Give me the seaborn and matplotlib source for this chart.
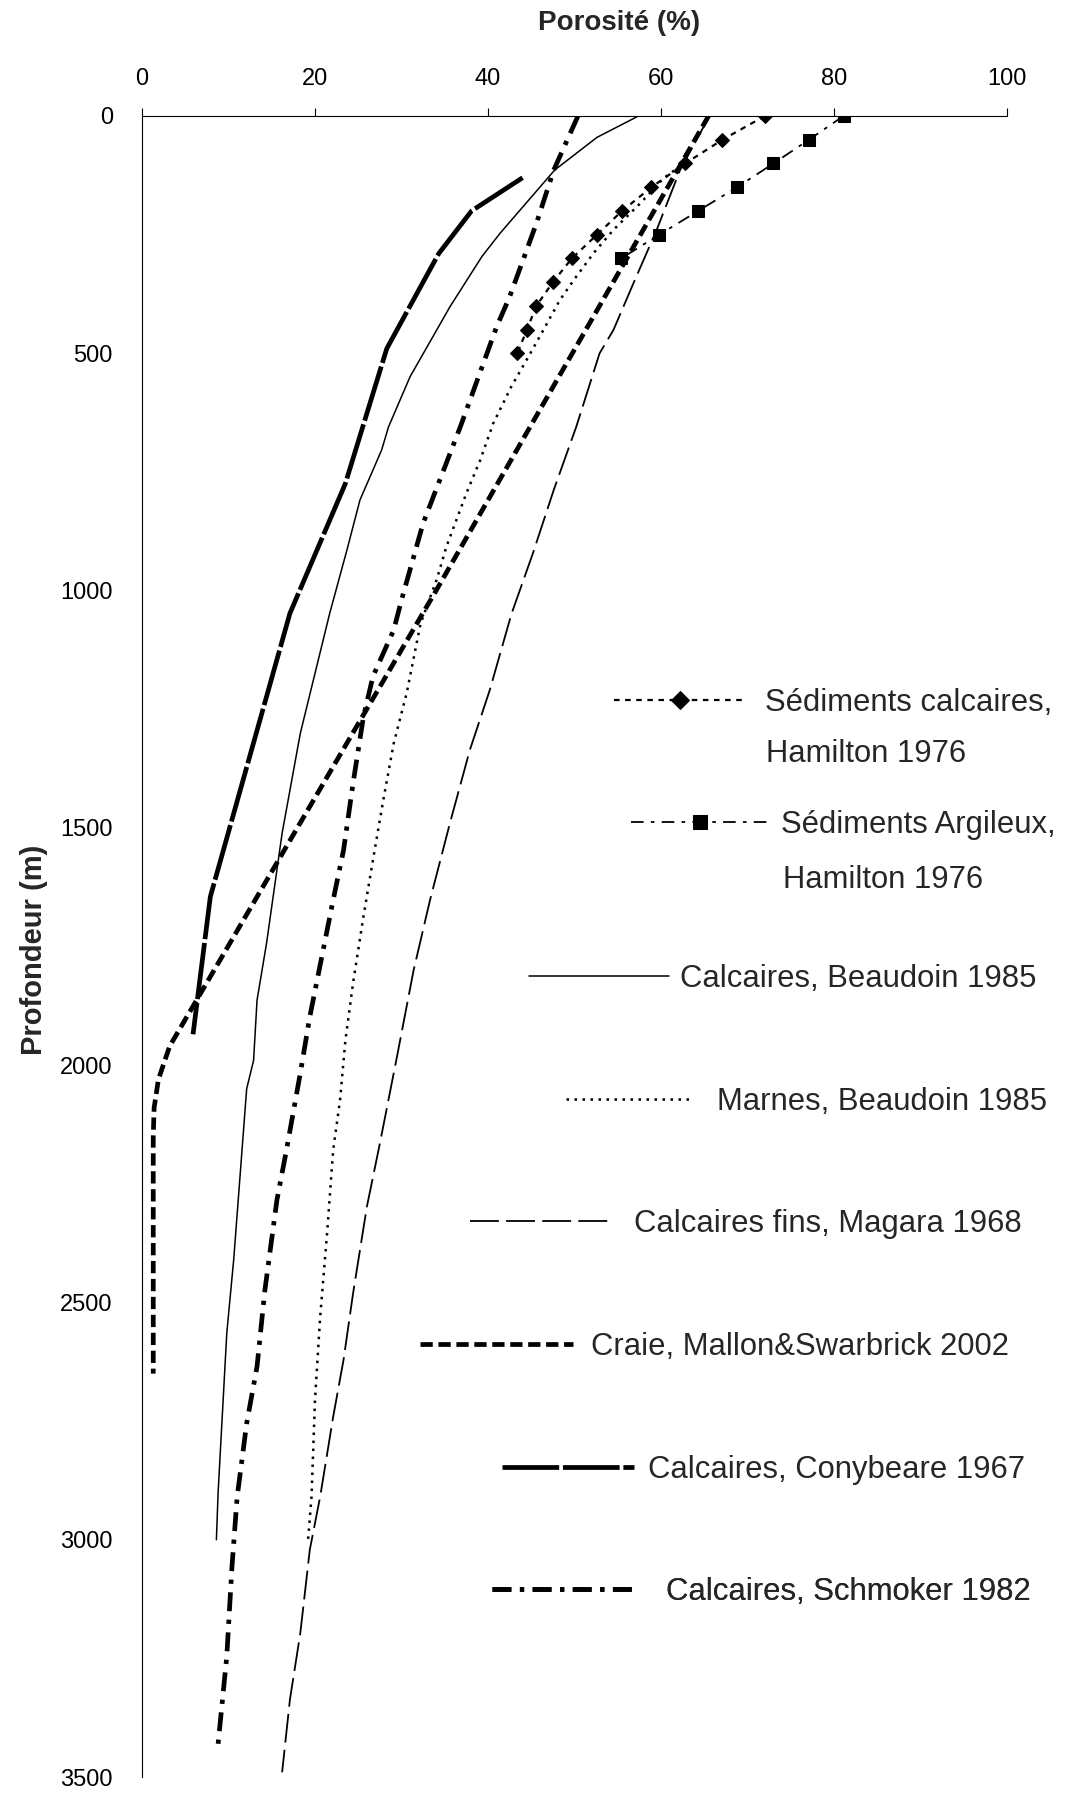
import matplotlib
matplotlib.use("Agg")
import matplotlib.pyplot as plt
import seaborn as sns
import pandas as pd

# Sédiments calcaires, Hamilton 1976
calc_depth = [0, 50, 100, 150, 200, 250, 300, 350, 400, 450, 500]
calc_poro = [72.0, 67.1, 62.8, 58.9, 55.5, 52.6, 49.7, 47.5, 45.6, 44.5, 43.4]

# Sédiments Argileux, Hamilton 1976
argi_depth = [0, 50, 100, 150, 200, 250, 300]
argi_poro = [81.1, 77.1, 73.0, 68.8, 64.3, 59.8, 55.4]

# Calcaires, Beaudoin 1985
beau_depth = [0, 45, 114, 247, 296, 402, 549, 655, 704, 809, 914, 1048, 1301, 1511,
              1743, 1863, 1990, 2050, 2410, 2565, 2900, 3000]
beau_poro = [57.4, 52.6, 47.7, 41.4, 39.3, 35.6, 31.0, 28.5, 27.7, 25.2, 23.7, 21.7, 18.3, 16.2,
             14.4, 13.3, 12.9, 12.1, 10.6, 9.8, 8.8, 8.6]

# Marnes, Beaudoin 1985
marn_depth = [95, 131, 184, 240, 289, 346, 388, 451, 500, 570, 648, 725, 795, 907, 975,
              1070, 1216, 1322, 1441, 1568, 1687, 1827, 1950, 2073, 2179, 2354, 2530,
              2705, 2909, 3000]
marn_poro = [63.0, 60.3, 57.6, 54.5, 52.2, 49.9, 48.3, 46.4, 44.9, 42.7, 40.6, 39.1, 37.5, 35.2, 34.1,
             32.2, 30.6, 29.1, 27.9, 26.7, 25.6, 24.4, 23.5, 22.9, 22.1, 21.4, 20.6,
             20.0, 19.6, 19.2]

# Calcaires fins, Magara 1968
maga_depth = [0, 114, 240, 353, 451, 500, 655, 788, 921, 1050, 1210, 1336, 1490, 1652,
              1800, 1980, 2165, 2298, 2481, 2621, 2741, 2909, 3021, 3197, 3337, 3490]
maga_poro = [65.6, 62.2, 59.5, 56.8, 54.5, 52.9, 50.2, 47.6, 45.2, 42.7, 40.2, 37.9, 35.6, 33.3,
             31.4, 29.5, 27.5, 26.0, 24.4, 23.3, 22.1, 20.6, 19.4, 18.3, 17.1, 16.2]

# Craie, Mallon&Swarbrick 2002
crai_depth = [0, 1000, 1960, 2030, 2090, 2150, 2650]
crai_poro = [65.5, 34.0, 3.2, 1.9, 1.4, 1.3, 1.3]

# Calcaires, Conybeare 1967
cony_depth = [130, 200, 290, 490, 775, 1048, 1645, 1935]
cony_poro = [44.0, 38.1, 34.3, 28.3, 23.5, 17.1, 7.9, 5.9]

# Calcaires, Schmoker 1982
schm_depth = [0, 114, 226, 381, 444, 655, 858, 1020, 1083, 1181, 1266, 1406, 1547, 1652,
              1898, 2017, 2179, 2284, 2475, 2635, 2755, 2910, 3057, 3246, 3430]
schm_poro = [50.4, 47.6, 45.6, 42.5, 41.0, 36.8, 32.5, 30.0, 29.1, 26.7, 25.6, 24.4, 23.3, 22.1,
             19.4, 18.3, 16.7, 15.6, 14.2, 13.3, 12.1, 11.0, 10.4, 9.8, 8.8]

x_ticks = [0, 20, 40, 60, 80, 100]
y_ticks = [0, 500, 1000, 1500, 2000, 2500, 3000, 3500]

W, H = 1068, 1794
FS = 22.3  # legend font size (pt)
FS_PX = FS * 100 / 72

sns.set_theme(style="white")
plt.rcParams['font.family'] = ['Liberation Sans', 'DejaVu Sans']

fig = plt.figure(figsize=(W / 100, H / 100), dpi=100)
ax = fig.add_axes([142 / W, 1 - 1777 / H, 865 / W, 1661 / H])

series = [
    # (depth, poro, style, label, key start px, key end px, text start px, y px, second line)
    (calc_depth, calc_poro, dict(lw=1.6, linestyle=(0, (2.5, 2.5)), marker='D', markersize=7.5),
     "Sédiments calcaires,", 614, 745, 765, 703, ("Hamilton 1976", 766, 754)),
    (argi_depth, argi_poro, dict(lw=1.3, linestyle=(0, (7, 4, 2, 4)), marker='s', markersize=8.5),
     "Sédiments Argileux,", 631, 769, 781, 825, ("Hamilton 1976", 783, 880)),
    (beau_depth, beau_poro, dict(lw=1.1, linestyle='-'),
     "Calcaires, Beaudoin 1985", 529, 669, 680, 979, None),
    (marn_depth, marn_poro, dict(lw=1.8, linestyle=(0, (1, 2.2))),
     "Marnes, Beaudoin 1985", 566, 694, 717, 1102, None),
    (maga_depth, maga_poro, dict(lw=1.3, linestyle=(0, (16, 4))),
     "Calcaires fins, Magara 1968", 470, 611, 634, 1224, None),
    (crai_depth, crai_poro, dict(lw=3.4, linestyle=(0, (2.6, 1.2))),
     "Craie, Mallon&Swarbrick 2002", 420, 573, 591, 1347, None),
    (cony_depth, cony_poro, dict(lw=3.4, linestyle=(0, (12, 0.8))),
     "Calcaires, Conybeare 1967", 502, 634, 648, 1470, None),
    (schm_depth, schm_poro, dict(lw=3.4, linestyle=(0, (4, 1.8, 0.9, 1.8))),
     "Calcaires, Schmoker 1982", 492, 632, 666, 1592, None),
]

for depth, poro, kws, label, x0, x1, xt, yp, extra in series:
    df = pd.DataFrame({"depth": depth, "poro": poro})
    sns.lineplot(data=df, x="poro", y="depth", sort=False, estimator=None,
                 color="black", ax=ax, legend=False, markeredgecolor="black", **kws)
    line = ax.lines[-1]
    leg = ax.legend(handles=[line], labels=[label], loc="center left",
                    bbox_to_anchor=(x0 / W, 1 - yp / H), bbox_transform=fig.transFigure,
                    frameon=False, fontsize=FS, borderpad=0, borderaxespad=0,
                    handlelength=(x1 - x0) / FS_PX, handletextpad=(xt - x1) / FS_PX,
                    markerscale=1.25, numpoints=1)
    ax.add_artist(leg)
    if extra is not None:
        txt, tx, ty = extra
        fig.text(tx / W, 1 - ty / H, txt, fontsize=FS, ha="left", va="center")

ax.set_xlim(0, 100)
ax.set_ylim(3500, 0)
ax.set_xticks(x_ticks)
ax.set_yticks(y_ticks)
ax.xaxis.tick_top()
ax.xaxis.set_label_position("top")
ax.tick_params(axis="both", direction="out", length=6, width=0.8, color="black",
               labelsize=17, labelcolor="black")
ax.tick_params(axis="x", pad=13)
ax.tick_params(axis="y", pad=15)

for side in ["right", "bottom"]:
    ax.spines[side].set_visible(False)
for side in ["left", "top"]:
    ax.spines[side].set_color("black")
    ax.spines[side].set_linewidth(0.8)

ax.set_xlabel("Porosité (%)", fontsize=20, fontweight="bold")
ax.xaxis.set_label_coords(0.551, 1.056)
ax.xaxis.label.set_va("center")
ax.set_ylabel("Profondeur (m)", fontsize=21, fontweight="bold")
ax.yaxis.set_label_coords(-0.125, 0.498)
ax.yaxis.label.set_va("center")

fig.savefig("out.png", dpi=100, facecolor="white")
